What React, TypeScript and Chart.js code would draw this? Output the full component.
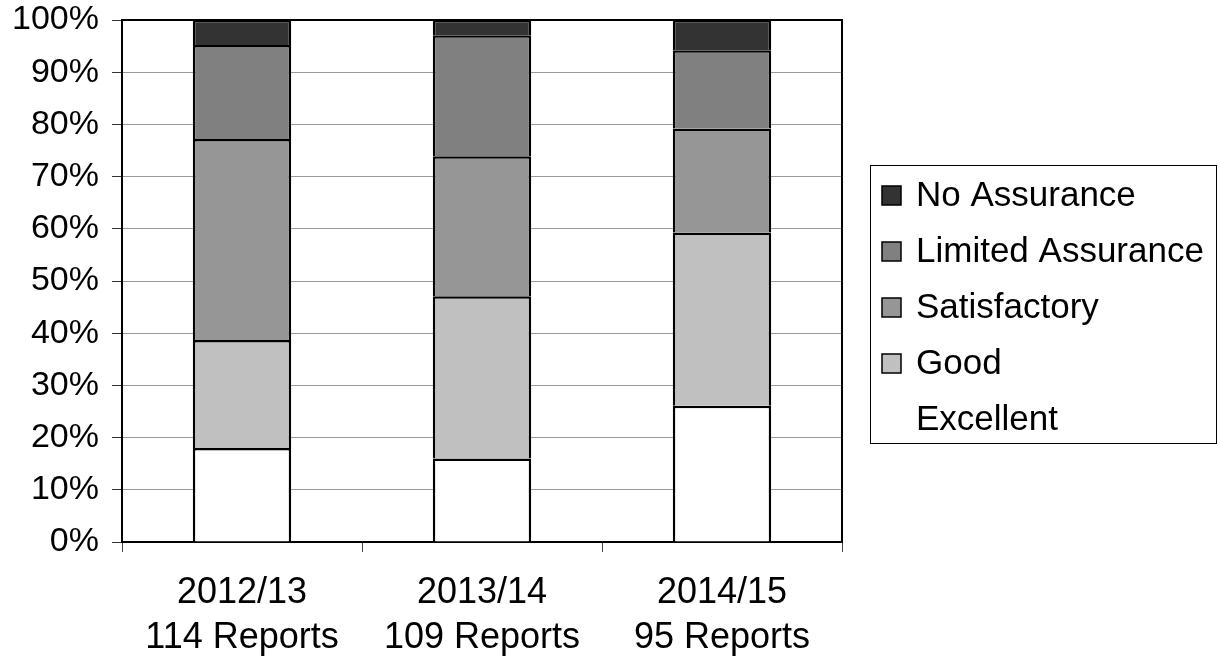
import React, { useEffect, useRef } from "react";
import { Chart, registerables } from "chart.js";

Chart.register(...registerables);

// ---- data ----
const categories: string[][] = [
  ["2012/13", "114 Reports"],
  ["2013/14", "109 Reports"],
  ["2014/15", "95 Reports"],
];
const excellent = [18.0, 16.0, 26.1];
const good = [20.7, 31.1, 33.2];
const satisfactory = [38.5, 26.8, 19.9];
const limitedAssurance = [18.0, 23.2, 15.0];
const noAssurance = [4.8, 2.9, 5.8];
const seriesNames = ["Excellent", "Good", "Satisfactory", "Limited Assurance", "No Assurance"];
const seriesColors = ["#ffffff", "#c0c0c0", "#969696", "#808080", "#333333"];
const yMin = 0;
const yMax = 100;
const yStep = 10;

const FONT = '"Liberation Sans", Arial, sans-serif';

const framePlugin = {
  id: "plotFrame",
  afterDatasetsDraw(chart: any) {
    const { ctx, chartArea } = chart;
    ctx.save();
    ctx.strokeStyle = "#000";
    ctx.lineWidth = 2;
    ctx.beginPath();
    ctx.moveTo(chartArea.left, chartArea.top);
    ctx.lineTo(chartArea.right, chartArea.top);
    ctx.lineTo(chartArea.right, chartArea.bottom);
    ctx.stroke();
    ctx.restore();
  },
};

const boxLegendPlugin = {
  id: "boxLegend",
  afterDraw(chart: any) {
    const ctx = chart.ctx;
    ctx.save();
    ctx.strokeStyle = "#000";
    ctx.lineWidth = 1;
    ctx.strokeRect(870.5, 165.5, 346, 278);
    ctx.font = `35px ${FONT}`;
    ctx.textBaseline = "middle";
    ctx.textAlign = "left";
    const ds = chart.data.datasets.slice().reverse();
    ds.forEach((d: any, i: number) => {
      const cy = 196 + i * 56;
      if (d.backgroundColor !== "#ffffff") {
        ctx.fillStyle = d.backgroundColor;
        ctx.fillRect(882, cy - 10, 19, 19);
        ctx.lineWidth = 1.5;
        ctx.strokeStyle = "#000";
        ctx.strokeRect(882, cy - 10, 19, 19);
      }
      ctx.fillStyle = "#000";
      ctx.fillText(d.label, 916, cy);
    });
    ctx.restore();
  },
};

export default function App() {
  const canvasRef = useRef<HTMLCanvasElement | null>(null);

  useEffect(() => {
    if (!canvasRef.current) return;
    const seriesData = [excellent, good, satisfactory, limitedAssurance, noAssurance];
    const chart = new Chart(canvasRef.current, {
      type: "bar",
      data: {
        labels: categories as any,
        datasets: seriesNames.map((name, i) => ({
          label: name,
          data: seriesData[i],
          backgroundColor: seriesColors[i],
          borderColor: "#000",
          borderWidth: 2.5,
          barPercentage: 0.41,
          categoryPercentage: 1,
        })),
      },
      options: {
        animation: false,
        responsive: false,
        layout: { padding: { top: 20, right: 378, bottom: 0, left: 0 } },
        plugins: {
          legend: { display: false },
          tooltip: { enabled: false },
        },
        scales: {
          x: {
            stacked: true,
            offset: true,
            grid: {
              offset: true,
              drawOnChartArea: false,
              drawTicks: true,
              tickLength: 10,
              color: "#444",
              lineWidth: 1,
            },
            border: { display: true, color: "#000", width: 2 },
            ticks: {
              color: "#000",
              padding: 19,
              maxRotation: 0,
              autoSkip: false,
              font: { family: FONT, size: 36, lineHeight: 1.25 },
            },
            afterFit(scale: any) {
              scale.height = 115;
              scale.paddingLeft = 0;
              scale.paddingRight = 0;
            },
          },
          y: {
            stacked: true,
            min: yMin,
            max: yMax,
            ticks: {
              stepSize: yStep,
              color: "#000",
              padding: 13,
              font: { family: FONT, size: 34 },
              callback: (v: any) => `${v}%`,
            },
            grid: {
              color: "#999",
              lineWidth: 1,
              tickLength: 10,
              tickColor: "#333",
            },
            border: { display: true, color: "#000", width: 2 },
            afterFit(scale: any) {
              scale.width = 122;
              scale.paddingTop = 0;
              scale.paddingBottom = 0;
            },
          },
        },
      },
      plugins: [framePlugin, boxLegendPlugin],
    });
    return () => chart.destroy();
  }, []);

  return (
    <div style={{ position: "fixed", left: 0, top: 0, width: 1220, height: 657, background: "#fff" }}>
      <canvas ref={canvasRef} width={1220} height={657} style={{ display: "block" }} />
    </div>
  );
}
